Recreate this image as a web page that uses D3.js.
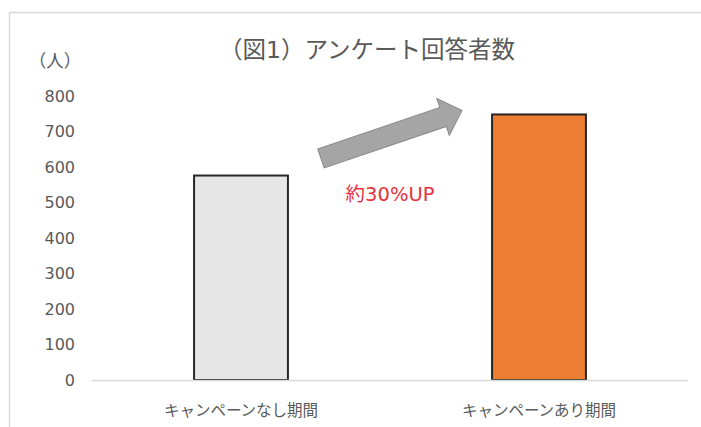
<!DOCTYPE html>
<html>
<head>
<meta charset="utf-8">
<script src="https://cdn.jsdelivr.net/npm/d3@7"></script>
<style>
  html, body { margin: 0; padding: 0; background: #fff; }
  svg { display: block; font-family: "DejaVu Sans", "Noto Sans CJK JP", sans-serif; }
</style>
</head>
<body>
<svg id="chart" width="701" height="427"></svg>
<script>
// Survey respondents before / during the campaign
const categories = ["キャンペーンなし期間", "キャンペーンあり期間"];
const respondents = [576, 748];
const barColors = ["#e6e6e6", "#ed7d31"];
const yTicks = [0, 100, 200, 300, 400, 500, 600, 700, 800];
const titleText = "（図1）アンケート回答者数";
const unitText = "（人）";
const noteText = "約30%UP";

const svg = d3.select("#chart");

// chart frame
svg.append("rect")
  .attr("x", 9.5).attr("y", 12.5)
  .attr("width", 720).attr("height", 440)
  .attr("fill", "#fff").attr("stroke", "#d9d9d9").attr("stroke-width", 1.5);

const plot = { left: 92, right: 688, top: 96, bottom: 380 };

const x = d3.scaleBand()
  .domain(categories)
  .range([plot.left, plot.right])
  .padding(0);

const y = d3.scaleLinear()
  .domain([0, 800])
  .range([plot.bottom, plot.top]);

const barW = x.bandwidth() * 0.315;

// title
svg.append("text")
  .attr("x", 367).attr("y", 58)
  .attr("text-anchor", "middle")
  .attr("font-size", 23.5)
  .attr("fill", "#595959")
  .text(titleText);

// unit label
svg.append("text")
  .attr("x", 55).attr("y", 67)
  .attr("text-anchor", "middle")
  .attr("font-size", 17.5)
  .attr("fill", "#595959")
  .text(unitText);

// y axis labels
const yAxis = d3.axisLeft(y).tickValues(yTicks).tickSize(0).tickPadding(0);
const yG = svg.append("g").attr("transform", `translate(75,0)`).call(yAxis);
yG.select(".domain").remove();
yG.selectAll("text")
  .attr("font-size", 16)
  .attr("font-family", "'DejaVu Sans', sans-serif")
  .attr("fill", "#595959");

// bars
svg.selectAll("rect.bar")
  .data(categories)
  .join("rect")
  .attr("class", "bar")
  .attr("x", d => x(d) + (x.bandwidth() - barW) / 2)
  .attr("y", (d, i) => y(respondents[i]))
  .attr("width", barW)
  .attr("height", (d, i) => y(0) - y(respondents[i]))
  .attr("fill", (d, i) => barColors[i])
  .attr("stroke", "#262626")
  .attr("stroke-width", 2);

// x axis baseline and labels
svg.append("line")
  .attr("x1", plot.left).attr("x2", plot.right)
  .attr("y1", y(0) + 0.5).attr("y2", y(0) + 0.5)
  .attr("stroke", "#d9d9d9").attr("stroke-width", 1.5);

svg.selectAll("text.cat")
  .data(categories)
  .join("text")
  .attr("class", "cat")
  .attr("x", d => x(d) + x.bandwidth() / 2)
  .attr("y", 416)
  .attr("text-anchor", "middle")
  .attr("font-size", 15.5)
  .attr("fill", "#595959")
  .text(d => d);

// growth arrow between the two bars
const tail = [x(categories[0]) + x.bandwidth() / 2 + 80, y(624)];
const tip = [x(categories[1]) + x.bandwidth() / 2 - 77, y(759)];
const dx = tip[0] - tail[0], dy = tip[1] - tail[1];
const len = Math.hypot(dx, dy);
const ang = Math.atan2(dy, dx) * 180 / Math.PI;
const shaftHalf = 10, headHalf = 19.5, headLen = 20;
const arrowPts = [
  [0, -shaftHalf], [len - headLen, -shaftHalf], [len - headLen, -headHalf],
  [len, 0],
  [len - headLen, headHalf], [len - headLen, shaftHalf], [0, shaftHalf]
];
svg.append("path")
  .attr("transform", `translate(${tail[0]},${tail[1]}) rotate(${ang})`)
  .attr("d", d3.line()(arrowPts) + "Z")
  .attr("fill", "#a5a5a5")
  .attr("stroke", "#8a8a8a")
  .attr("stroke-width", 1);

// growth note
svg.append("text")
  .attr("x", 390).attr("y", 201)
  .attr("text-anchor", "middle")
  .attr("font-size", 19.5)
  .attr("fill", "#e8323c")
  .text(noteText);
</script>
</body>
</html>
